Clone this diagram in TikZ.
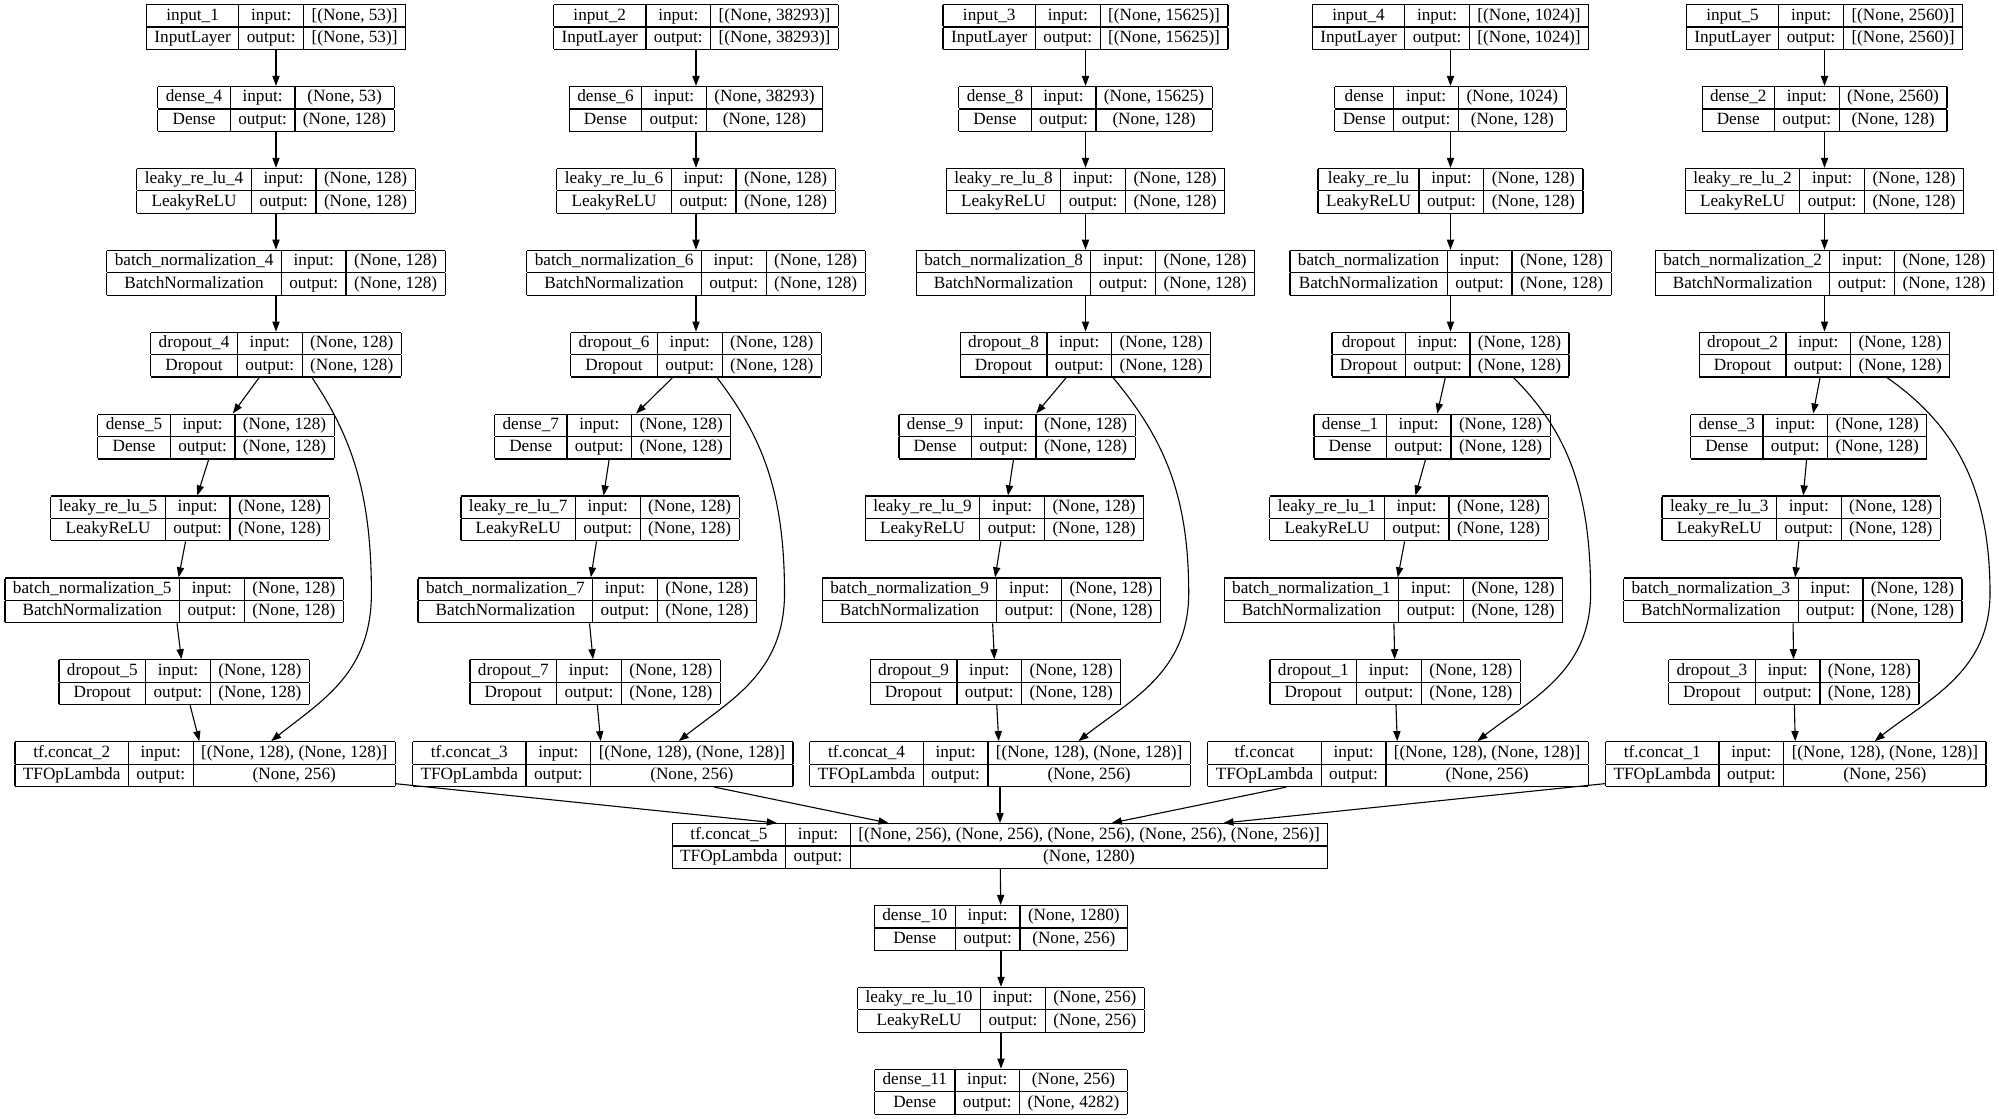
\documentclass[tikz,border=0pt]{standalone}
\usepackage{fontspec}
\setmainfont{Liberation Serif}
\usepackage{tikz}
\usetikzlibrary{calc,arrows.meta}

\setlength{\tabcolsep}{4pt}
\setlength{\arrayrulewidth}{0.6pt}

% one keras layer: name, class, input shape, output shape
\newcommand{\layer}[4]{%
	\begin{tabular}{|c|c|c|}
		\hline
		#1 & input: & #3 \\
		\hline
		#2 & output: & #4 \\
		\hline
	\end{tabular}}

\tikzset{
	lay/.style={inner sep=0pt, outer sep=0pt, font=\fontsize{8.6}{10.6}\selectfont},
	edge/.style={-{Triangle[length=5pt,width=3.6pt]}, line width=0.55pt},
}

\begin{document}
\begin{tikzpicture}[x=0.5pt, y=-0.5pt]
	\useasboundingbox (0,0) rectangle (1999,1119);
	\fill[white] (0,0) rectangle (1999,1119);

	% branch 1
	\node[lay] (in1) at (276,27) {\layer{input\_1}{InputLayer}{[(None, 53)]}{[(None, 53)]}};
	\node[lay] (dn4) at (276,108.9) {\layer{dense\_4}{Dense}{(None, 53)}{(None, 128)}};
	\node[lay] (lr4) at (276,190.8) {\layer{leaky\_re\_lu\_4}{LeakyReLU}{(None, 128)}{(None, 128)}};
	\node[lay] (bn4) at (276,272.7) {\layer{batch\_normalization\_4}{BatchNormalization}{(None, 128)}{(None, 128)}};
	\node[lay] (dr4) at (276,354.6) {\layer{dropout\_4}{Dropout}{(None, 128)}{(None, 128)}};
	\node[lay] (dn5) at (216,436.5) {\layer{dense\_5}{Dense}{(None, 128)}{(None, 128)}};
	\node[lay] (lr5) at (190,518.4) {\layer{leaky\_re\_lu\_5}{LeakyReLU}{(None, 128)}{(None, 128)}};
	\node[lay] (bn5) at (174.2,600.3) {\layer{batch\_normalization\_5}{BatchNormalization}{(None, 128)}{(None, 128)}};
	\node[lay] (dr5) at (184.2,682.2) {\layer{dropout\_5}{Dropout}{(None, 128)}{(None, 128)}};
	\node[lay] (cc2) at (205.2,764.1) {\layer{tf.concat\_2}{TFOpLambda}{[(None, 128), (None, 128)]}{(None, 256)}};

	% branch 2
	\node[lay] (in2) at (696,27) {\layer{input\_2}{InputLayer}{[(None, 38293)]}{[(None, 38293)]}};
	\node[lay] (dn6) at (696,108.9) {\layer{dense\_6}{Dense}{(None, 38293)}{(None, 128)}};
	\node[lay] (lr6) at (696,190.8) {\layer{leaky\_re\_lu\_6}{LeakyReLU}{(None, 128)}{(None, 128)}};
	\node[lay] (bn6) at (696,272.7) {\layer{batch\_normalization\_6}{BatchNormalization}{(None, 128)}{(None, 128)}};
	\node[lay] (dr6) at (696,354.6) {\layer{dropout\_6}{Dropout}{(None, 128)}{(None, 128)}};
	\node[lay] (dn7) at (612.7,436.5) {\layer{dense\_7}{Dense}{(None, 128)}{(None, 128)}};
	\node[lay] (lr7) at (600.1,518.4) {\layer{leaky\_re\_lu\_7}{LeakyReLU}{(None, 128)}{(None, 128)}};
	\node[lay] (bn7) at (587.3,600.3) {\layer{batch\_normalization\_7}{BatchNormalization}{(None, 128)}{(None, 128)}};
	\node[lay] (dr7) at (595.2,682.2) {\layer{dropout\_7}{Dropout}{(None, 128)}{(None, 128)}};
	\node[lay] (cc3) at (602.8,764.1) {\layer{tf.concat\_3}{TFOpLambda}{[(None, 128), (None, 128)]}{(None, 256)}};

	% branch 3
	\node[lay] (in3) at (1085.5,27) {\layer{input\_3}{InputLayer}{[(None, 15625)]}{[(None, 15625)]}};
	\node[lay] (dn8) at (1085.5,108.9) {\layer{dense\_8}{Dense}{(None, 15625)}{(None, 128)}};
	\node[lay] (lr8) at (1085.5,190.8) {\layer{leaky\_re\_lu\_8}{LeakyReLU}{(None, 128)}{(None, 128)}};
	\node[lay] (bn8) at (1085.5,272.7) {\layer{batch\_normalization\_8}{BatchNormalization}{(None, 128)}{(None, 128)}};
	\node[lay] (dr8) at (1085.5,354.6) {\layer{dropout\_8}{Dropout}{(None, 128)}{(None, 128)}};
	\node[lay] (dn9) at (1017,436.5) {\layer{dense\_9}{Dense}{(None, 128)}{(None, 128)}};
	\node[lay] (lr9) at (1004.5,518.4) {\layer{leaky\_re\_lu\_9}{LeakyReLU}{(None, 128)}{(None, 128)}};
	\node[lay] (bn9) at (991.5,600.3) {\layer{batch\_normalization\_9}{BatchNormalization}{(None, 128)}{(None, 128)}};
	\node[lay] (dr9) at (995.5,682.2) {\layer{dropout\_9}{Dropout}{(None, 128)}{(None, 128)}};
	\node[lay] (cc4) at (1000,764.1) {\layer{tf.concat\_4}{TFOpLambda}{[(None, 128), (None, 128)]}{(None, 256)}};

	% branch 4
	\node[lay] (in4) at (1450.5,27) {\layer{input\_4}{InputLayer}{[(None, 1024)]}{[(None, 1024)]}};
	\node[lay] (dn) at (1450.5,108.9) {\layer{dense}{Dense}{(None, 1024)}{(None, 128)}};
	\node[lay] (lr) at (1450.5,190.8) {\layer{leaky\_re\_lu}{LeakyReLU}{(None, 128)}{(None, 128)}};
	\node[lay] (bn) at (1450.5,272.7) {\layer{batch\_normalization}{BatchNormalization}{(None, 128)}{(None, 128)}};
	\node[lay] (dr) at (1450.5,354.6) {\layer{dropout}{Dropout}{(None, 128)}{(None, 128)}};
	\node[lay] (dn1) at (1432,436.5) {\layer{dense\_1}{Dense}{(None, 128)}{(None, 128)}};
	\node[lay] (lr1) at (1409,518.4) {\layer{leaky\_re\_lu\_1}{LeakyReLU}{(None, 128)}{(None, 128)}};
	\node[lay] (bn1) at (1393.4,600.3) {\layer{batch\_normalization\_1}{BatchNormalization}{(None, 128)}{(None, 128)}};
	\node[lay] (dr1) at (1395.2,682.2) {\layer{dropout\_1}{Dropout}{(None, 128)}{(None, 128)}};
	\node[lay] (cc) at (1398,764.1) {\layer{tf.concat}{TFOpLambda}{[(None, 128), (None, 128)]}{(None, 256)}};

	% branch 5
	\node[lay] (in5) at (1824.5,27) {\layer{input\_5}{InputLayer}{[(None, 2560)]}{[(None, 2560)]}};
	\node[lay] (dn2) at (1824.5,108.9) {\layer{dense\_2}{Dense}{(None, 2560)}{(None, 128)}};
	\node[lay] (lr2) at (1824.5,190.8) {\layer{leaky\_re\_lu\_2}{LeakyReLU}{(None, 128)}{(None, 128)}};
	\node[lay] (bn2) at (1824.5,272.7) {\layer{batch\_normalization\_2}{BatchNormalization}{(None, 128)}{(None, 128)}};
	\node[lay] (dr2) at (1824.5,354.6) {\layer{dropout\_2}{Dropout}{(None, 128)}{(None, 128)}};
	\node[lay] (dn3) at (1808.7,436.5) {\layer{dense\_3}{Dense}{(None, 128)}{(None, 128)}};
	\node[lay] (lr3) at (1801.2,518.4) {\layer{leaky\_re\_lu\_3}{LeakyReLU}{(None, 128)}{(None, 128)}};
	\node[lay] (bn3) at (1792.8,600.3) {\layer{batch\_normalization\_3}{BatchNormalization}{(None, 128)}{(None, 128)}};
	\node[lay] (dr3) at (1793.8,682.2) {\layer{dropout\_3}{Dropout}{(None, 128)}{(None, 128)}};
	\node[lay] (cc1) at (1795.8,764.1) {\layer{tf.concat\_1}{TFOpLambda}{[(None, 128), (None, 128)]}{(None, 256)}};

	% head
	\node[lay] (cc5) at (1000,846) {\layer{tf.concat\_5}{TFOpLambda}{[(None, 256), (None, 256), (None, 256), (None, 256), (None, 256)]}{(None, 1280)}};
	\node[lay] (dn10) at (1001,927.9) {\layer{dense\_10}{Dense}{(None, 1280)}{(None, 256)}};
	\node[lay] (lr10) at (1001,1009.8) {\layer{leaky\_re\_lu\_10}{LeakyReLU}{(None, 256)}{(None, 256)}};
	\node[lay] (dn11) at (1001,1091.7) {\layer{dense\_11}{Dense}{(None, 256)}{(None, 4282)}};

	\foreach \a/\b in {in1/dn4, dn4/lr4, lr4/bn4, bn4/dr4, dr4/dn5, dn5/lr5, lr5/bn5, bn5/dr5, dr5/cc2, cc2/cc5,
		in2/dn6, dn6/lr6, lr6/bn6, bn6/dr6, dr6/dn7, dn7/lr7, lr7/bn7, bn7/dr7, dr7/cc3, cc3/cc5,
		in3/dn8, dn8/lr8, lr8/bn8, bn8/dr8, dr8/dn9, dn9/lr9, lr9/bn9, bn9/dr9, dr9/cc4, cc4/cc5,
		in4/dn, dn/lr, lr/bn, bn/dr, dr/dn1, dn1/lr1, lr1/bn1, bn1/dr1, dr1/cc, cc/cc5,
		in5/dn2, dn2/lr2, lr2/bn2, bn2/dr2, dr2/dn3, dn3/lr3, lr3/bn3, bn3/dr3, dr3/cc1, cc1/cc5,
		cc5/dn10, dn10/lr10, lr10/dn11}
		\draw[edge] (\a) -- (\b);

	% skip connections dropout -> concat
	\draw[edge] ($(dr4.south)+(36,0)$) .. controls +(40,60) and +(0,-100) .. ($(bn5.east)+(28,-7)$)
		.. controls +(0,80) and +(50,-40) .. ($(cc2.north)+(66,0)$);
	\draw[edge] ($(dr6.south)+(21,0)$) .. controls +(46,60) and +(0,-100) .. ($(bn7.east)+(28,-7)$)
		.. controls +(0,80) and +(50,-40) .. ($(cc3.north)+(76,0)$);
	\draw[edge] ($(dr8.south)+(27.5,0)$) .. controls +(50,60) and +(0,-100) .. ($(bn9.east)+(28,-7)$)
		.. controls +(0,80) and +(50,-40) .. ($(cc4.north)+(78.5,0)$);
	\draw[edge] ($(dr.south)+(63,0)$) .. controls +(55,55) and +(0,-100) .. ($(bn1.east)+(28,-7)$)
		.. controls +(0,80) and +(50,-40) .. ($(cc.north)+(79.5,0)$);
	\draw[edge] ($(dr2.south)+(62.5,0)$) .. controls +(72,50) and +(0,-100) .. ($(bn3.east)+(28,-7)$)
		.. controls +(0,80) and +(50,-40) .. ($(cc1.north)+(79,0)$);
\end{tikzpicture}
\end{document}
